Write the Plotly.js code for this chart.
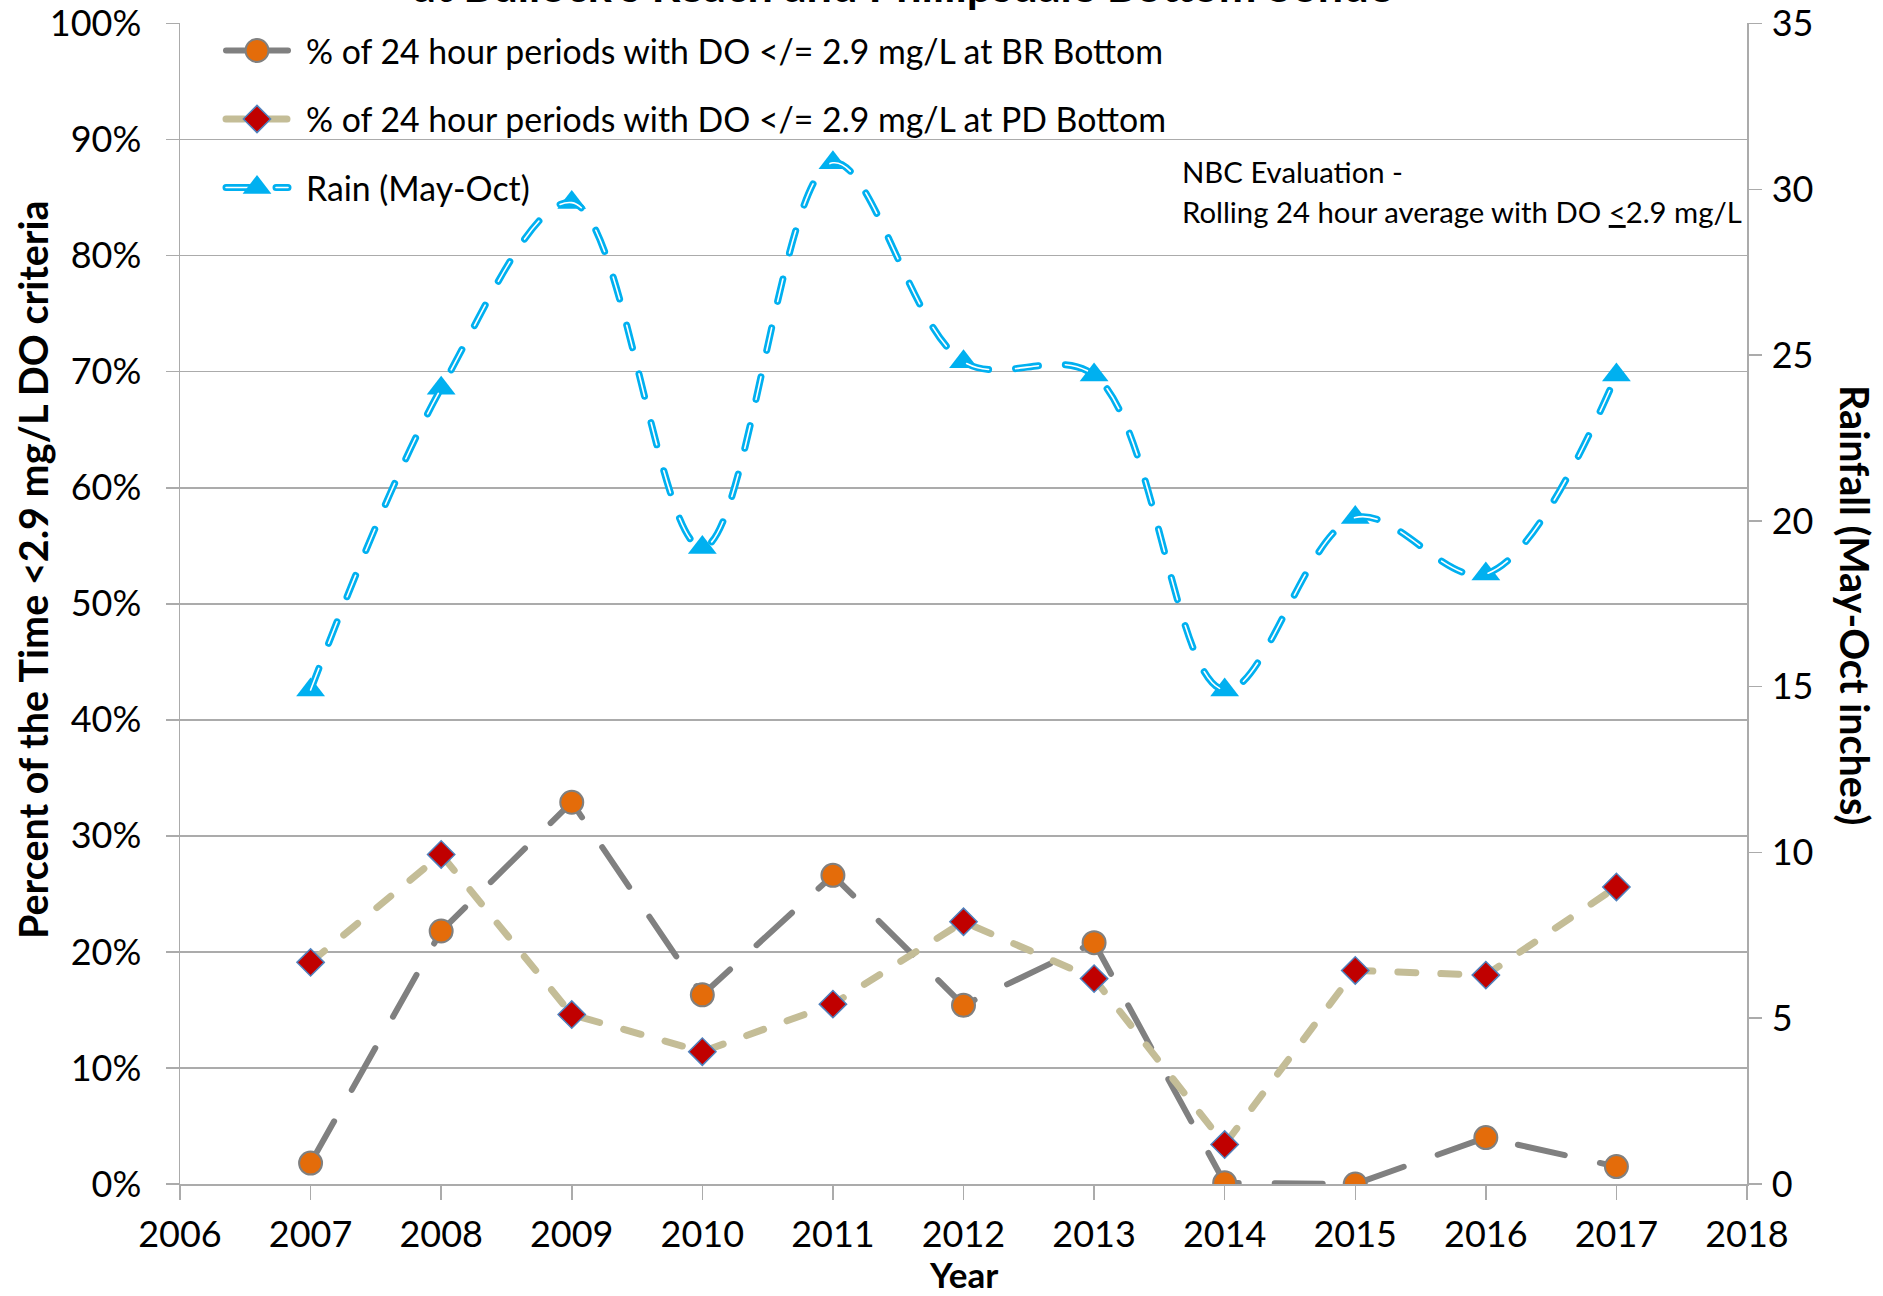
<!DOCTYPE html>
<html>
<head>
<meta charset="utf-8">
<script src="https://cdn.plot.ly/plotly-3.0.1.min.js"></script>
<style>
  html, body { margin: 0; padding: 0; background: #ffffff; }
  #chart { width: 1883px; height: 1296px; }
  /* rounded dash ends, like the original office-style lines */
  #chart path.js-line, #chart .shapelayer path { stroke-linecap: round; }
</style>
</head>
<body>
<div id="chart"></div>
<script>
// Sampling years
const years = [2007, 2008, 2009, 2010, 2011, 2012, 2013, 2014, 2015, 2016, 2017];

// % of 24-hour periods with DO <= 2.9 mg/L
const brBottomPct = [1.8, 21.8, 32.9, 16.3, 26.6, 15.4, 20.8, 0.1, 0.0, 4.0, 1.5];
const pdBottomPct = [19.1, 28.4, 14.6, 11.4, 15.5, 22.6, 17.7, 3.4, 18.4, 18.0, 25.6];

// May-October rainfall, inches
const rainMayOct = [14.9, 24.0, 29.6, 19.2, 30.8, 24.8, 24.4, 14.9, 20.1, 18.4, 24.4];

// Axis ticks
const yearTicks = [2006, 2007, 2008, 2009, 2010, 2011, 2012, 2013, 2014, 2015, 2016, 2017, 2018];
const pctTicks = [0, 10, 20, 30, 40, 50, 60, 70, 80, 90, 100];
const rainTicks = [0, 5, 10, 15, 20, 25, 30, 35];

const seriesNames = [
  '% of 24 hour periods with DO &lt;/= 2.9 mg/L at BR Bottom',
  '% of 24 hour periods with DO &lt;/= 2.9 mg/L at PD Bottom',
  'Rain (May-Oct)'
];

const FONT = 'Lato, "Open Sans", sans-serif';
const GRID = '#ababab';

// series styles
const BR = { line: '#808080', lw: 6, dash: '48px,36px', fill: '#e46c0a', edge: '#808080' };
const PD = { line: '#c4bd97', lw: 7, dash: '18px,25px', fill: '#c00000', edge: '#4f81bd' };
const RAIN = { line: '#00b0f0', lw: 7, dash: '23px,27px', core: '#ffffff', cw: 1.6 };

// plot box in page pixels, used to place the hand-built key and titles
const BOX = { l: 180, r: 136, t: 23, b: 112, w: 1883, h: 1296 };
const plotW = BOX.w - BOX.l - BOX.r;
const plotH = BOX.h - BOX.t - BOX.b;
const px2x = px => (px - BOX.l) / plotW;
const px2y = py => (BOX.h - BOX.b - py) / plotH;

const traces = [
  {
    x: years, y: brBottomPct, name: seriesNames[0],
    type: 'scatter', mode: 'lines+markers', xaxis: 'x', yaxis: 'y',
    line: { color: BR.line, width: BR.lw, dash: BR.dash },
    marker: { symbol: 'circle', size: 23, color: BR.fill, line: { color: BR.edge, width: 2 } }
  },
  {
    x: years, y: pdBottomPct, name: seriesNames[1],
    type: 'scatter', mode: 'lines+markers', xaxis: 'x', yaxis: 'y',
    line: { color: PD.line, width: PD.lw, dash: PD.dash },
    marker: { symbol: 'diamond', size: 21, color: PD.fill, line: { color: PD.edge, width: 1.5 } }
  },
  {
    x: years, y: rainMayOct, name: seriesNames[2],
    type: 'scatter', mode: 'lines+markers', xaxis: 'x', yaxis: 'y2',
    line: { color: RAIN.line, width: RAIN.lw, dash: RAIN.dash, shape: 'spline', smoothing: 1 },
    marker: { symbol: 'triangle-up', size: 25, color: RAIN.line, line: { width: 0 } }
  },
  {
    // thin white core running inside the rainfall dashes
    x: years, y: rainMayOct, name: 'rain core',
    type: 'scatter', mode: 'lines', xaxis: 'x', yaxis: 'y2',
    line: { color: RAIN.core, width: RAIN.cw, dash: RAIN.dash, shape: 'spline', smoothing: 1 }
  }
];

// key rows: line sample 226..288 px, symbol at 257 px, text from 304 px
const keyRows = [50.5, 119, 187.5];
const keyX0 = px2x(226), keyX1 = px2x(288), keyMid = px2x(257), keyText = px2x(304);

const shapes = [];
const keyNotes = [];
function keyLine(row, color, width, dash) {
  shapes.push({
    type: 'line', xref: 'paper', yref: 'paper',
    x0: keyX0, x1: keyX1, y0: px2y(row), y1: px2y(row),
    line: { color: color, width: width, dash: dash }
  });
}
function keyDot(row, r, fill, edge, edgeW) {
  shapes.push({
    type: 'circle', xref: 'paper', yref: 'paper',
    xsizemode: 'pixel', ysizemode: 'pixel', xanchor: keyMid, yanchor: px2y(row),
    x0: -r, x1: r, y0: -r, y1: r,
    fillcolor: fill, line: { color: edge, width: edgeW }
  });
}
function keySymbol(row, path, fill, edge, edgeW) {
  shapes.push({
    type: 'path', xref: 'paper', yref: 'paper',
    xsizemode: 'pixel', ysizemode: 'pixel', xanchor: keyMid, yanchor: px2y(row),
    path: path, fillcolor: fill, line: { color: edge, width: edgeW }
  });
}
keyLine(keyRows[0], BR.line, BR.lw, 'solid');
keyDot(keyRows[0], 11.5, BR.fill, BR.edge, 2);
keyLine(keyRows[1], PD.line, PD.lw, PD.dash);
keySymbol(keyRows[1], 'M0,-13.6 L13.6,0 L0,13.6 L-13.6,0 Z', PD.fill, PD.edge, 1.5);
keyLine(keyRows[2], RAIN.line, RAIN.lw, RAIN.dash);
keyLine(keyRows[2], RAIN.core, RAIN.cw, RAIN.dash);
keySymbol(keyRows[2], 'M-14.4,-6.25 L14.4,-6.25 L0,12.5 Z', RAIN.line, RAIN.line, 0);
seriesNames.forEach((name, i) => {
  keyNotes.push({
    text: name, xref: 'paper', yref: 'paper', x: keyText, y: px2y(keyRows[i]),
    xanchor: 'left', yanchor: 'middle', showarrow: false,
    font: { family: FONT, size: 33.8, color: '#000000' }
  });
});

const layout = {
  width: BOX.w, height: BOX.h,
  margin: { l: BOX.l, r: BOX.r, t: BOX.t, b: BOX.b, pad: 0 },
  paper_bgcolor: '#ffffff', plot_bgcolor: '#ffffff',
  font: { family: FONT, color: '#000000', size: 36 },
  hovermode: false,
  showlegend: false,
  xaxis: {
    range: [2006, 2018], tickvals: yearTicks, ticktext: yearTicks.map(String),
    ticks: 'outside', ticklen: 14, tickwidth: 1.5, tickcolor: GRID,
    showline: true, linecolor: GRID, linewidth: 1.5,
    showgrid: false, zeroline: false, automargin: false,
    tickfont: { family: FONT, size: 36, color: '#000000' },
    ticklabelstandoff: 4
  },
  yaxis: {
    range: [0, 100.05], tickvals: pctTicks, ticktext: pctTicks.map(v => v + '%'),
    ticks: 'outside', ticklen: 13, tickwidth: 1.5, tickcolor: GRID,
    showline: true, linecolor: GRID, linewidth: 1.5,
    showgrid: true, gridcolor: GRID, gridwidth: 1.5,
    zeroline: false, automargin: false,
    tickfont: { family: FONT, size: 36, color: '#000000' },
    ticklabelstandoff: 17
  },
  yaxis2: {
    range: [0, 35.0175], tickvals: rainTicks, ticktext: rainTicks.map(String),
    overlaying: 'y', side: 'right',
    ticks: 'outside', ticklen: 13, tickwidth: 1.5, tickcolor: GRID,
    showline: true, linecolor: GRID, linewidth: 1.5,
    showgrid: false, zeroline: false, automargin: false,
    tickfont: { family: FONT, size: 36, color: '#000000' },
    ticklabelstandoff: 3
  },
  shapes: shapes,
  annotations: [
    {
      // lower line of the chart title, running off the top edge
      text: "<b>at Bullock's Reach and Phillipsdale Bottom Sonde</b>",
      xref: 'paper', yref: 'paper', x: px2x(903), y: px2y(14),
      xanchor: 'center', yanchor: 'bottom', showarrow: false,
      font: { family: FONT, size: 45, color: '#000000' }
    },
    {
      text: '<b>Year</b>',
      xref: 'paper', yref: 'paper', x: 0.5, y: px2y(1274),
      xanchor: 'center', yanchor: 'middle', showarrow: false,
      font: { family: FONT, size: 35, color: '#000000' }
    },
    {
      text: '<b>Percent of the Time &lt;2.9 mg/L DO criteria</b>',
      xref: 'paper', yref: 'paper', x: px2x(32), y: px2y(570),
      xanchor: 'center', yanchor: 'middle', textangle: -90, showarrow: false,
      font: { family: FONT, size: 39.5, color: '#000000' }
    },
    {
      text: '<b>Rainfall (May-Oct inches)</b>',
      xref: 'paper', yref: 'paper', x: px2x(1855), y: px2y(605),
      xanchor: 'center', yanchor: 'middle', textangle: 90, showarrow: false,
      font: { family: FONT, size: 39.5, color: '#000000' }
    },
    {
      text: 'NBC Evaluation -',
      xref: 'paper', yref: 'paper', x: px2x(1180), y: px2y(172),
      xanchor: 'left', yanchor: 'middle', showarrow: false,
      font: { family: FONT, size: 29.3, color: '#000000' }
    },
    {
      text: 'Rolling 24 hour average with DO <u>&lt;</u>2.9 mg/L',
      xref: 'paper', yref: 'paper', x: px2x(1180), y: px2y(212),
      xanchor: 'left', yanchor: 'middle', showarrow: false,
      font: { family: FONT, size: 29.3, color: '#000000' }
    }
  ].concat(keyNotes)
};

Plotly.newPlot('chart', traces, layout, { displayModeBar: false, staticPlot: true });
</script>
</body>
</html>
